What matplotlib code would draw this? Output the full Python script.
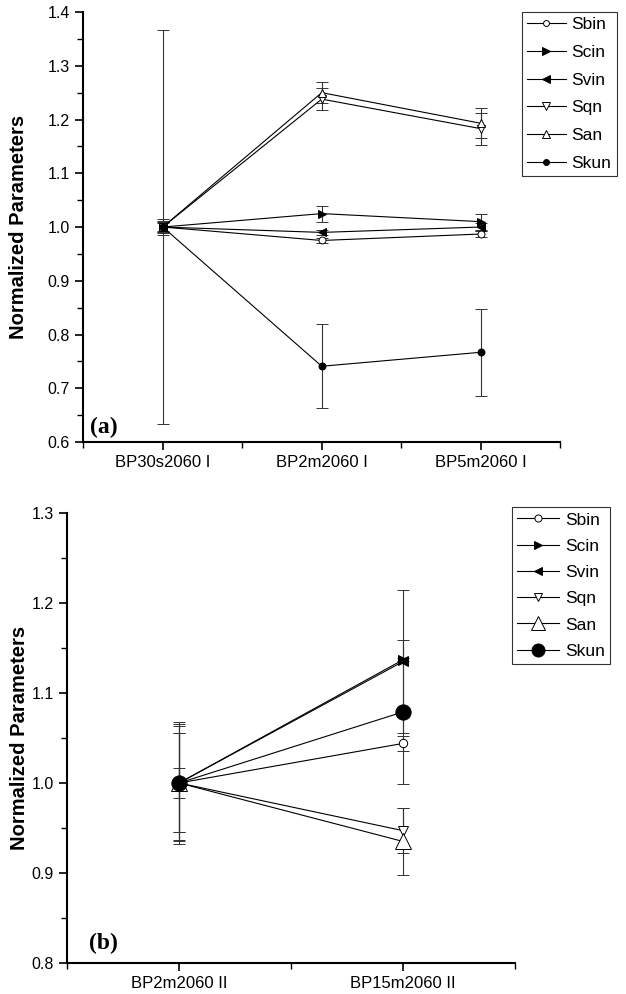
import numpy as np
import matplotlib
matplotlib.use("Agg")
from matplotlib import pyplot as plt
from matplotlib.ticker import MultipleLocator
from matplotlib.lines import Line2D

plt.rcParams['font.family'] = ['Liberation Sans', 'DejaVu Sans']

series = ['Sbin', 'Scin', 'Svin', 'Sqn', 'San', 'Skun']
markers = ['o', '>', '<', 'v', '^', 'o']
filled = [False, True, True, False, False, True]

# panel (a)
cats_a = ['BP30s2060 I', 'BP2m2060 I', 'BP5m2060 I']
vals_a = {
    'Sbin': [1.0, 0.975, 0.987],
    'Scin': [1.0, 1.025, 1.010],
    'Svin': [1.0, 0.990, 1.000],
    'Sqn':  [1.0, 1.238, 1.183],
    'San':  [1.0, 1.250, 1.193],
    'Skun': [1.0, 0.741, 0.767],
}
err_a = {
    'Sbin': [0.010, 0.005, 0.005],
    'Scin': [0.015, 0.015, 0.015],
    'Svin': [0.008, 0.005, 0.008],
    'Sqn':  [0.012, 0.020, 0.030],
    'San':  [0.010, 0.020, 0.028],
    'Skun': [0.367, 0.078, 0.081],
}
size_a = [5, 6, 6, 6, 6, 5]

# panel (b)
cats_b = ['BP2m2060 II', 'BP15m2060 II']
vals_b = {
    'Sbin': [1.0, 1.044],
    'Scin': [1.0, 1.137],
    'Svin': [1.0, 1.135],
    'Sqn':  [1.0, 0.947],
    'San':  [1.0, 0.935],
    'Skun': [1.0, 1.079],
}
err_b = {
    'Sbin': [0.017, 0.008],
    'Scin': [0.055, 0.002],
    'Svin': [0.068, 0.080],
    'Sqn':  [0.063, 0.025],
    'San':  [0.065, 0.037],
    'Skun': [0.055, 0.080],
}
size_b = [6, 7, 7, 7, 12, 11]

fig = plt.figure(figsize=(6.26, 9.94), dpi=100)
ax_a = fig.add_axes([0.133, 0.5553, 0.762, 0.4326])
ax_b = fig.add_axes([0.107, 0.0312, 0.716, 0.4527])


def draw(ax, cats, vals, errs, sizes):
    x = np.arange(len(cats))
    handles = []
    for name, m, f, s in zip(series, markers, filled, sizes):
        ax.errorbar(x, vals[name], yerr=errs[name], color='black',
                    ecolor='#333333', elinewidth=0.8, capsize=4, capthick=0.8,
                    lw=0.8, marker=m, ms=s, mec='black', mew=0.7,
                    mfc='black' if f else 'white')
        handles.append(Line2D([], [], color='black', lw=0.8, marker=m,
                              ms=s * 0.85, mec='black', mew=0.7,
                              mfc='black' if f else 'white', label=name))
    ax.set_xticks(x)
    ax.set_xticklabels(cats, fontsize=12)
    ax.set_xlim(-0.5, len(cats) - 0.5)
    ax.xaxis.set_minor_locator(MultipleLocator(0.5))
    ax.yaxis.set_minor_locator(MultipleLocator(0.05))
    ax.yaxis.set_major_formatter(matplotlib.ticker.FormatStrFormatter('%.1f'))
    ax.tick_params(which='major', direction='out', length=6, width=1.2, labelsize=11.5)
    ax.tick_params(axis='x', which='major', labelsize=12)
    ax.tick_params(which='minor', direction='out', length=4, width=1.0)
    for sp in ['top', 'right']:
        ax.spines[sp].set_visible(False)
    for sp in ['left', 'bottom']:
        ax.spines[sp].set_linewidth(1.5)
    ax.set_ylabel('Normalized Parameters', fontsize=14.5, fontweight='bold')
    return handles


h = draw(ax_a, cats_a, vals_a, err_a, size_a)
ax_a.set_ylim(0.6, 1.4)
ax_a.set_yticks(np.arange(0.6, 1.41, 0.1))
ax_a.yaxis.set_label_coords(-0.115, 0.5)
ax_a.text(0.015, 0.02, '(a)', transform=ax_a.transAxes, fontsize=17,
          fontweight='bold', family='Liberation Serif')
leg = ax_a.legend(handles=h, loc='upper left', bbox_to_anchor=(0.92, 1.0),
                  fontsize=12.5, frameon=True, fancybox=False, edgecolor='black',
                  handlelength=2.2, labelspacing=0.72, borderpad=0.3,
                  handletextpad=0.35, borderaxespad=0)
leg.get_frame().set_linewidth(0.8)

h = draw(ax_b, cats_b, vals_b, err_b, size_b)
ax_b.set_ylim(0.8, 1.3)
ax_b.set_yticks(np.arange(0.8, 1.31, 0.1))
ax_b.yaxis.set_label_coords(-0.085, 0.5)
ax_b.text(0.05, 0.03, '(b)', transform=ax_b.transAxes, fontsize=17,
          fontweight='bold', family='Liberation Serif')
leg = ax_b.legend(handles=h, loc='upper left', bbox_to_anchor=(0.993, 1.013),
                  fontsize=12.5, frameon=True, fancybox=False, edgecolor='black',
                  handlelength=2.4, labelspacing=0.64, borderpad=0.3,
                  handletextpad=0.35, borderaxespad=0)
leg.get_frame().set_linewidth(0.8)

fig.savefig('out.png', dpi=100)
